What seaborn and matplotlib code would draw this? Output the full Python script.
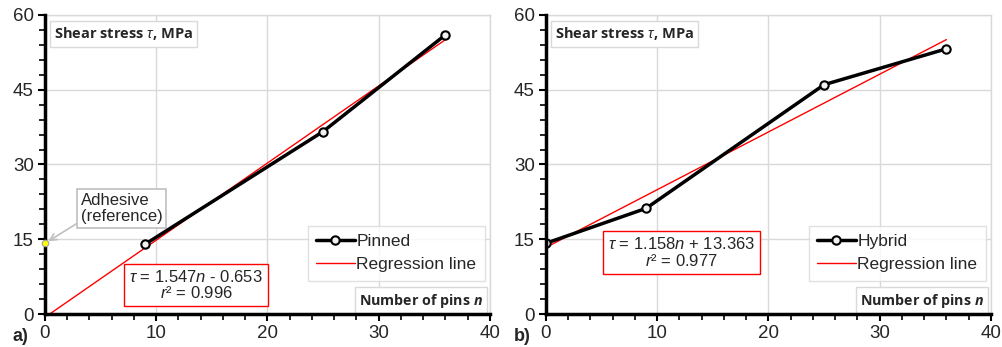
import numpy as np
import matplotlib
matplotlib.use("Agg")
import matplotlib.pyplot as plt
import seaborn as sns
from matplotlib.ticker import MultipleLocator

# data
pinned_n = [9, 25, 36]
pinned_tau = [14.0, 36.6, 56.0]
hybrid_n = [0, 9, 25, 36]
hybrid_tau = [14.2, 21.2, 46.0, 53.2]
adhesive_n = [0]
adhesive_tau = [14.2]

# regression equations shown in the boxes (slope, intercept, r2)
reg_a = (1.547, -0.653, 0.996)
reg_b = (1.158, 13.363, 0.977)
reg_a_range = [0.42, 36]
reg_b_range = [0, 36]

sns.set_theme(style="white")
plt.rcParams['font.family'] = ['Liberation Sans', 'DejaVu Sans']
plt.rcParams['mathtext.fontset'] = 'custom'
plt.rcParams['mathtext.rm'] = 'Liberation Sans'
plt.rcParams['mathtext.it'] = 'Liberation Sans:italic'
plt.rcParams['mathtext.bf'] = 'Open Sans:bold'
plt.rcParams['mathtext.bfit'] = 'Open Sans:bold:italic'

fig = plt.figure(figsize=(10.02, 3.47), dpi=100)
ax_a = fig.add_axes([0.0449, 0.095, 0.444, 0.862])
ax_b = fig.add_axes([0.5449, 0.095, 0.444, 0.862])


def style_axes(ax):
    ax.set_xlim(0, 40)
    ax.set_ylim(0, 60)
    ax.xaxis.set_major_locator(MultipleLocator(10))
    ax.xaxis.set_minor_locator(MultipleLocator(2))
    ax.yaxis.set_major_locator(MultipleLocator(15))
    ax.yaxis.set_minor_locator(MultipleLocator(3))
    ax.grid(True, which='major', color='#d9d9d9', lw=1)
    for s in ['top', 'right']:
        ax.spines[s].set_color('#d9d9d9')
        ax.spines[s].set_linewidth(1)
    for s in ['left', 'bottom']:
        ax.spines[s].set_color('black')
        ax.spines[s].set_linewidth(2.5)
        ax.spines[s].set_zorder(5)
    ax.tick_params(which='major', length=5, width=1.5, color='black', labelsize=13.5,
                   bottom=True, left=True, direction='out', pad=3)
    ax.tick_params(which='minor', length=4, width=1.2, color='black',
                   bottom=True, left=True, direction='out')
    ax.set_xlabel('')
    ax.set_ylabel('')
    ax.text(0.02, 0.965, r'Shear stress $\tau$, MPa', transform=ax.transAxes,
            fontsize=10.5, fontweight='bold', family=['Open Sans', 'DejaVu Sans'],
            va='top', ha='left',
            bbox=dict(boxstyle='square,pad=0.3', fc='white', ec='#d9d9d9', lw=1))
    ax.text(0.985, 0.015, r'Number of pins $\boldsymbol{n}$', transform=ax.transAxes,
            fontsize=10.3, fontweight='bold', family=['Open Sans', 'DejaVu Sans'],
            va='bottom', ha='right',
            bbox=dict(boxstyle='square,pad=0.3', fc='white', ec='#d9d9d9', lw=1))


def draw_reg(ax, coef, rng):
    xs = np.array(rng)
    ys = coef[0] * xs + coef[1]
    sns.lineplot(x=xs, y=ys, ax=ax, color='red', lw=1, label='Regression line',
                 zorder=3)


def draw_series(ax, n, tau, name):
    sns.lineplot(x=n, y=tau, ax=ax, color='black', lw=2.5, marker='o', ms=6,
                 mfc='#f2f2f2', mec='black', mew=1.5, label=name, zorder=4)


# panel a
draw_series(ax_a, pinned_n, pinned_tau, 'Pinned')
draw_reg(ax_a, reg_a, reg_a_range)
sns.scatterplot(x=adhesive_n, y=adhesive_tau, ax=ax_a, color='#ffff00',
                edgecolor='#a0a0a0', s=22, linewidth=0.8, zorder=6, clip_on=False)
ax_a.annotate('Adhesive\n(reference)', xy=(0.3, 14.6), xytext=(3.2, 18.0),
              fontsize=12, ha='left', va='bottom', linespacing=1.15,
              bbox=dict(boxstyle='square,pad=0.2', fc='white', ec='#bfbfbf', lw=1.2),
              arrowprops=dict(arrowstyle='->', color='#bfbfbf', lw=1.2,
                              shrinkA=0, shrinkB=0, relpos=(0, 0.1)))
ax_a.text(13.6, 5.8, r'$\tau$ = %.3f$n$ - %.3f' % (reg_a[0], -reg_a[1]) + '\n' +
          r'$r$² = %.3f' % reg_a[2], fontsize=12, ha='center', va='center',
          linespacing=1.05,
          bbox=dict(boxstyle='square,pad=0.3', fc='white', ec='red', lw=1))
ax_a.text(-0.072, -0.074, 'a)', transform=ax_a.transAxes, fontsize=13,
          fontweight='bold', ha='left', va='center')

# panel b
draw_series(ax_b, hybrid_n, hybrid_tau, 'Hybrid')
draw_reg(ax_b, reg_b, reg_b_range)
ax_b.text(12.2, 12.4, r'$\tau$ = %.3f$n$ + %.3f' % (reg_b[0], reg_b[1]) + '\n' +
          r'$r$² = %.3f' % reg_b[2], fontsize=12, ha='center', va='center',
          linespacing=1.05,
          bbox=dict(boxstyle='square,pad=0.3', fc='white', ec='red', lw=1))
ax_b.text(-0.072, -0.074, 'b)', transform=ax_b.transAxes, fontsize=13,
          fontweight='bold', ha='left', va='center')

for ax in (ax_a, ax_b):
    style_axes(ax)
    leg = ax.legend(loc='lower right', bbox_to_anchor=(0.989, 0.11), fontsize=12.5,
                    frameon=True, fancybox=False, handlelength=2.2,
                    handletextpad=0.1, borderpad=0.5, labelspacing=0.45,
                    borderaxespad=0)
    leg.get_frame().set_edgecolor('#d9d9d9')
    leg.get_frame().set_linewidth(1)

fig.savefig('out.png', dpi=100)
